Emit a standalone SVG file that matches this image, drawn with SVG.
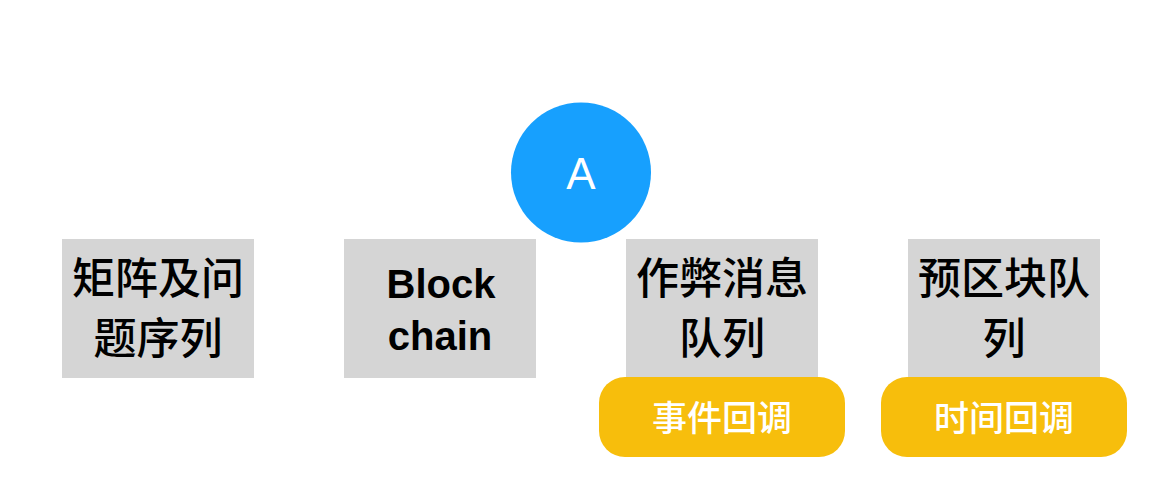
<svg xmlns="http://www.w3.org/2000/svg" width="1168" height="498" viewBox="0 0 1168 498">
<style>
.box{fill:#d5d5d5}
.pill{fill:#f7be0c}
.t{font-family:"Liberation Sans","Noto Sans CJK SC",sans-serif;fill:#000;text-anchor:middle}
.cjk{font-family:"Noto Sans CJK SC",sans-serif;font-size:43px;font-weight:500}
.lat{font-size:40px;font-weight:700}
.pt{font-family:"Noto Sans CJK SC",sans-serif;font-size:35px;font-weight:500;fill:#fff;text-anchor:middle}
</style>
<rect width="1168" height="498" fill="#fff"/>
<g id="connectors"></g>
<g id="node-matrix">
<rect class="box" x="62" y="239" width="192" height="139"/>
<text class="t cjk" x="158" y="294">矩阵及问</text>
<text class="t cjk" x="158" y="354">题序列</text>
</g>
<g id="node-blockchain">
<rect class="box" x="344" y="239" width="192" height="139"/>
<text class="t lat" x="441" y="298">Block</text>
<text class="t lat" x="440" y="350">chain</text>
</g>
<g id="node-cheat">
<rect class="box" x="626" y="239" width="192" height="139"/>
<text class="t cjk" x="722" y="294">作弊消息</text>
<text class="t cjk" x="722" y="354">队列</text>
</g>
<g id="node-preblock">
<rect class="box" x="908" y="239" width="192" height="139"/>
<text class="t cjk" x="1004" y="294">预区块队</text>
<text class="t cjk" x="1004" y="354">列</text>
</g>
<g id="node-event-callback">
<rect class="pill" x="599" y="377" width="246" height="80" rx="26" ry="26"/>
<text class="pt" x="722" y="431">事件回调</text>
</g>
<g id="node-time-callback">
<rect class="pill" x="881" y="377" width="246" height="80" rx="26" ry="26"/>
<text class="pt" x="1004" y="431">时间回调</text>
</g>
<g id="node-A">
<circle cx="581" cy="172.5" r="70" fill="#17a0fe"/>
<text x="581" y="189" font-family="Liberation Sans, sans-serif" font-size="44" fill="#fff" text-anchor="middle">A</text>
</g>
</svg>
